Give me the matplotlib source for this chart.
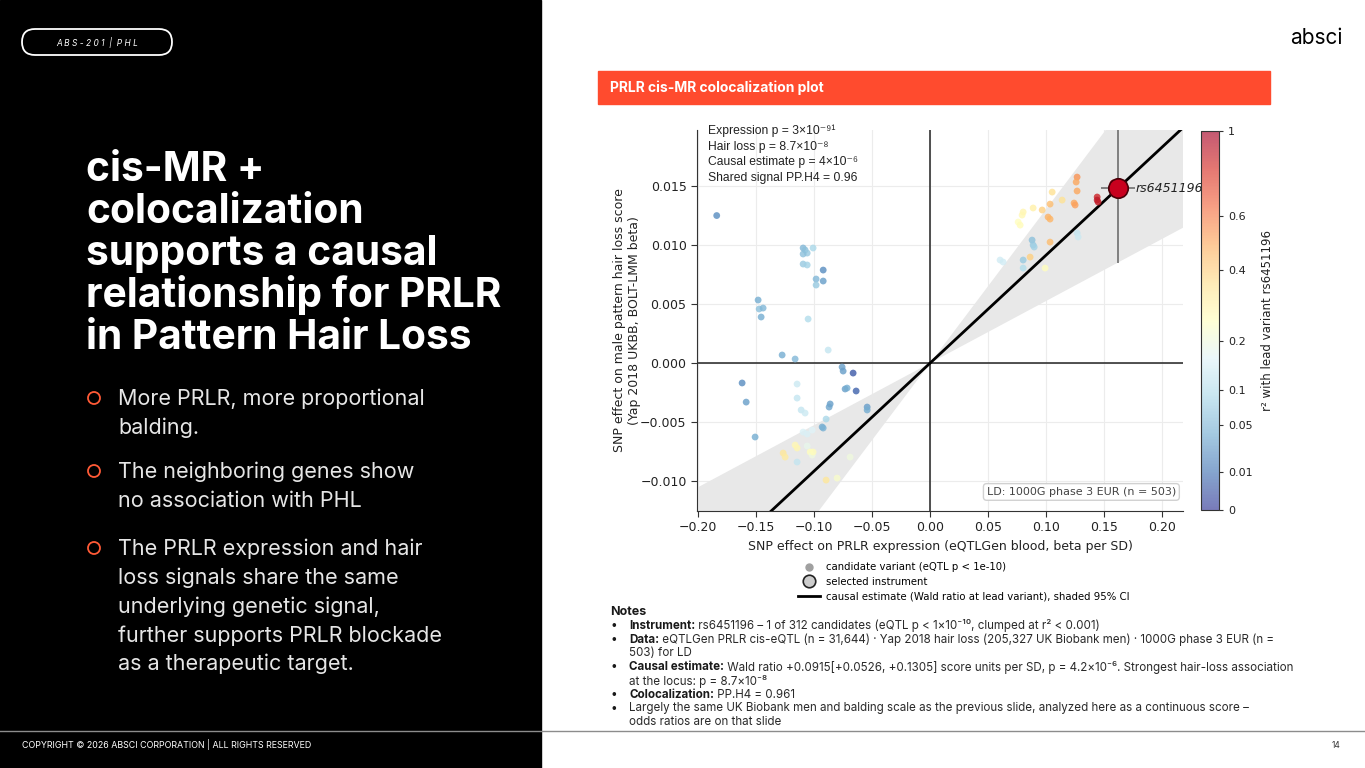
import matplotlib
matplotlib.use("Agg")
import matplotlib.pyplot as plt
import numpy as np
from matplotlib import colors as mcolors
from matplotlib.cm import ScalarMappable
from matplotlib.patches import Rectangle, FancyBboxPatch, Circle
from matplotlib.lines import Line2D

W, H = 1365, 768

# --- chart data ---
# candidate variants: eQTL beta (x), hair-loss beta (y), r2 with lead variant
cand_x = [-0.184, -0.1095, -0.1078, -0.106, -0.1095, -0.1009, -0.1095, -0.106, -0.0922, -0.0983,
          -0.0922, -0.0983, -0.1483, -0.1474, -0.144, -0.1457, -0.1052, -0.1276, -0.1164, -0.0879,
          -0.0759, -0.075, -0.0664, -0.1621, -0.1586, -0.1147, -0.1147, -0.0733, -0.0716, -0.0638,
          -0.0862, -0.0871, -0.0543, -0.0543, -0.1112, -0.1078, -0.0897, -0.0931, -0.0922, -0.1509,
          -0.1095, -0.106, -0.1017, -0.1164, -0.1147, -0.1267, -0.125, -0.106, -0.1034, -0.1017,
          -0.1009, -0.1147, -0.0897, -0.0802, -0.069,
          0.1267, 0.1259, 0.1267, 0.1052, 0.1034, 0.0966, 0.0888, 0.0802, 0.0793, 0.0759,
          0.0776, 0.1017, 0.1034, 0.1241, 0.125, 0.144, 0.144, 0.1448, 0.1578, 0.1267,
          0.1276, 0.0879, 0.0888, 0.0897, 0.1034, 0.0862, 0.0802, 0.0802, 0.0603, 0.0629,
          0.0991, 0.1138]
cand_y = [0.0125, 0.00975, 0.00958, 0.00932, 0.00924, 0.00975, 0.00839, 0.00831, 0.00788, 0.00712,
          0.00695, 0.00661, 0.00534, 0.00458, 0.00466, 0.0039, 0.00373, 0.00068, 0.00034, 0.0011,
          -0.00034, -0.00068, -0.00085, -0.00169, -0.00331, -0.00178, -0.00297, -0.0022, -0.00212, -0.00237,
          -0.00347, -0.00373, -0.00373, -0.00398, -0.00398, -0.00424, -0.00475, -0.00542, -0.00551, -0.00627,
          -0.00585, -0.00602, -0.00568, -0.00695, -0.0072, -0.00763, -0.00797, -0.00703, -0.00754, -0.0078,
          -0.00754, -0.00839, -0.00992, -0.00975, -0.00797,
          0.01576, 0.01534, 0.01458, 0.01449, 0.01347, 0.01297, 0.01314, 0.0128, 0.01254, 0.01195,
          0.01169, 0.01237, 0.0122, 0.01356, 0.01339, 0.01407, 0.01381, 0.01364, 0.01525, 0.01102,
          0.01068, 0.01042, 0.01, 0.00983, 0.01025, 0.00898, 0.00873, 0.00805, 0.00873, 0.00856,
          0.00805, 0.01381]
cand_r2 = [0.02, 0.05, 0.06, 0.07, 0.06, 0.09, 0.07, 0.08, 0.02, 0.05,
           0.03, 0.07, 0.04, 0.06, 0.05, 0.04, 0.1, 0.04, 0.05, 0.12,
           0.03, 0.03, 0.003, 0.02, 0.03, 0.13, 0.12, 0.03, 0.04, 0.005,
           0.03, 0.035, 0.03, 0.04, 0.12, 0.13, 0.09, 0.04, 0.045, 0.04,
           0.15, 0.15, 0.16, 0.27, 0.28, 0.33, 0.32, 0.18, 0.25, 0.2,
           0.26, 0.12, 0.33, 0.23, 0.2,
           0.55, 0.5, 0.5, 0.35, 0.45, 0.4, 0.3, 0.28, 0.27, 0.25,
           0.26, 0.48, 0.47, 0.5, 0.52, 0.85, 0.9, 0.88, 0.95, 0.12,
           0.13, 0.06, 0.07, 0.08, 0.45, 0.4, 0.07, 0.1, 0.14, 0.14,
           0.25, 0.35]

lead_name = "rs6451196"
lead_x, lead_y = 0.162, 0.0148
lead_xerr, lead_yerr = 0.015, 0.0063
wald, wald_lo, wald_hi = 0.0915, 0.0526, 0.1305

annot_lines = ["Expression p = 3×10⁻⁹¹", "Hair loss p = 8.7×10⁻⁸",
               "Causal estimate p = 4×10⁻⁶", "Shared signal PP.H4 = 0.96"]
cbar_ticks = [0, 0.01, 0.05, 0.1, 0.2, 0.4, 0.6, 1]
cbar_labels = ["0", "0.01", "0.05", "0.1", "0.2", "0.4", "0.6", "1"]

title_lines = ["cis-MR +", "colocalization", "supports a causal",
               "relationship for PRLR", "in Pattern Hair Loss"]
bullets = [["More PRLR, more proportional", "balding."],
           ["The neighboring genes show", "no association with PHL"],
           ["The PRLR expression and hair", "loss signals share the same",
            "underlying genetic signal,", "further supports PRLR blockade",
            "as a therapeutic target."]]
notes = [("Instrument:", " rs6451196 – 1 of 312 candidates (eQTL p < 1×10⁻¹⁰, clumped at r² < 0.001)", True),
         ("Data:", " eQTLGen PRLR cis-eQTL (n = 31,644) · Yap 2018 hair loss (205,327 UK Biobank men) · 1000G phase 3 EUR (n =", True),
         ("", "503) for LD", False),
         ("Causal estimate:", " Wald ratio +0.0915[+0.0526, +0.1305] score units per SD, p = 4.2×10⁻⁶. Strongest hair-loss association", True),
         ("", "at the locus: p = 8.7×10⁻⁸", False),
         ("Colocalization:", " PP.H4 = 0.961", True),
         ("", "Largely the same UK Biobank men and balding scale as the previous slide, analyzed here as a continuous score –", True),
         ("", "odds ratios are on that slide", False)]

SLIDE = ["Inter", "DejaVu Sans"]
plt.rcParams["font.family"] = ["DejaVu Sans"]

fig = plt.figure(figsize=(W / 100, H / 100), dpi=100)
fig.patch.set_facecolor("white")

# slide background drawn in pixel coordinates
bg = fig.add_axes([0, 0, 1, 1], zorder=0)
bg.set_xlim(0, W)
bg.set_ylim(H, 0)
bg.axis("off")

bg.add_patch(Rectangle((0, 0), 541, H, color="black", zorder=0))
bg.plot([0, W], [731, 731], color="#8c8c8c", lw=1)
bg.add_patch(FancyBboxPatch((22, 29), 150, 26, boxstyle="round,pad=0,rounding_size=13",
                            fill=False, ec="white", lw=1.3))
bg.text(97, 42.5, "A B S - 2 0 1  |  P H L", color="white", fontsize=6, style="italic",
        ha="center", va="center", family=SLIDE)

for i, line in enumerate(title_lines):
    bg.text(86, 181 + 42 * i, line, color="white", fontsize=29.3, weight="bold",
            family=SLIDE, va="baseline")

bullet_y = [[398, 427], [471, 500], [548, 577, 606, 635, 663]]
for lines, ys in zip(bullets, bullet_y):
    bg.add_patch(Circle((94, ys[0]), 6, fill=False, ec="#ff5a36", lw=1.3))
    for line, y in zip(lines, ys):
        bg.text(118, y + 7, line, color="#e6e6e6", fontsize=15.5, family=SLIDE, va="baseline")

bg.text(22, 745, "COPYRIGHT © 2026 ABSCI CORPORATION | ALL RIGHTS RESERVED", color="white",
        fontsize=6.4, family=SLIDE, va="center")
bg.text(1340, 745, "14", color="#333333", fontsize=6, family=SLIDE, va="center", ha="right")
bg.text(1316, 38, "absci", color="black", fontsize=15, family=SLIDE, ha="center", va="center")

bg.add_patch(Rectangle((598, 71), 672, 33, color="#ff4b2e"))
bg.text(610, 87.5, "PRLR cis-MR colocalization plot", color="white", fontsize=10,
        weight="bold", family=SLIDE, va="center")

# notes
renderer = fig.canvas.get_renderer()
bg.text(610, 612, "Notes", fontsize=9, weight="bold", family=SLIDE, va="center", color="#1a1a1a")
for i, (bold, rest, dot) in enumerate(notes):
    y = 626 + 13.75 * i
    x = 629
    if dot:
        bg.text(611, y, "•", fontsize=8.35, family=SLIDE, va="center", color="#1a1a1a")
    if bold:
        t = bg.text(x, y, bold, fontsize=8.35, weight="bold", family=SLIDE, va="center", color="#1a1a1a")
        x += t.get_window_extent(renderer).width
    bg.text(x, y, rest, fontsize=8.35, family=SLIDE, va="center", color="#2a2a2a")

# --- chart ---
ax = fig.add_axes([697 / W, 1 - 511 / H, 486 / W, 381 / H], zorder=2)
ax.set_xlim(-0.201, 0.218)
ax.set_ylim(-0.01254, 0.01975)
ax.set_xticks(np.arange(-0.2, 0.201, 0.05))
ax.set_yticks(np.arange(-0.01, 0.0151, 0.005))
ax.grid(color="#ececec", lw=0.8)
ax.set_axisbelow(True)
for s in ["top", "right"]:
    ax.spines[s].set_visible(False)
for s in ["left", "bottom"]:
    ax.spines[s].set_color("#333333")
ax.tick_params(labelsize=9, length=4, color="#333333", labelcolor="#222222")

xs = np.array([-0.25, 0.25])
ax.fill_between(xs, wald_lo * xs, wald_hi * xs, color="#e8e8e8", lw=0, zorder=1)
ax.axhline(0, color="#222222", lw=1.1, zorder=2)
ax.axvline(0, color="#222222", lw=1.1, zorder=2)
ax.plot(xs, wald * xs, color="black", lw=2, zorder=3)

cmap = plt.get_cmap("RdYlBu_r")
norm = mcolors.PowerNorm(gamma=0.5, vmin=0, vmax=1)
ax.scatter(cand_x, cand_y, c=cand_r2, cmap=cmap, norm=norm, s=24, alpha=0.8, lw=0, zorder=4)

ax.errorbar(lead_x, lead_y, xerr=lead_xerr, yerr=lead_yerr, fmt="none", ecolor="#6e6e6e",
            elinewidth=1.2, zorder=5)
ax.plot(lead_x, lead_y, "o", ms=14, mfc="#c8001e", mec="#4a0008", mew=1.2, zorder=6)
ax.text(lead_x + 0.0148, lead_y, lead_name, style="italic", fontsize=9, va="center",
        color="#222222", zorder=7)

for i, line in enumerate(annot_lines):
    ax.text(11 / 486, (380 - 15.7 * i) / 381, line, transform=ax.transAxes, fontsize=8.7,
            family=["Liberation Sans", "DejaVu Sans"], va="center", color="#222222")

ax.text(0.9856, 0.05, "LD: 1000G phase 3 EUR (n = 503)", transform=ax.transAxes, ha="right",
        va="center", fontsize=8, color="#444444", zorder=8,
        bbox=dict(boxstyle="round,pad=0.3", fc="white", ec="#cccccc", alpha=0.9))

ax.set_xlabel("SNP effect on PRLR expression (eQTLGen blood, beta per SD)", fontsize=9,
              labelpad=4, color="#222222")
ax.set_ylabel("SNP effect on male pattern hair loss score\n(Yap 2018 UKBB, BOLT-LMM beta)",
              fontsize=9, labelpad=-1, color="#222222")

# colorbar
cb_colors = cmap(np.linspace(0, 1, 256))
cb_colors[:, 3] = 0.65
cax = fig.add_axes([1201 / W, 1 - 510 / H, 18 / W, 379 / H], zorder=2)
cb = fig.colorbar(ScalarMappable(norm=norm, cmap=mcolors.ListedColormap(cb_colors)), cax=cax)
cb.set_ticks(cbar_ticks)
cb.set_ticklabels(cbar_labels)
cb.ax.tick_params(labelsize=8, length=3, color="#333333", labelcolor="#222222")
cb.outline.set_edgecolor("#333333")
cb.set_label("r² with lead variant rs6451196", fontsize=8.5, color="#222222", labelpad=6)

# legend under the chart
handles = [Line2D([], [], marker="o", ls="", color="#a0a0a0", ms=5),
           Line2D([], [], marker="o", ls="", mfc="#cccccc", mec="#222222", mew=1.2, ms=9),
           Line2D([], [], color="black", lw=2)]
labels = ["candidate variant (eQTL p < 1e-10)", "selected instrument",
          "causal estimate (Wald ratio at lead variant), shaded 95% CI"]
fig.legend(handles, labels, loc="upper left", bbox_to_anchor=(793 / W, 1 - 557 / H),
           frameon=False, fontsize=7.3, handlelength=2.2, labelspacing=0.45,
           handletextpad=0.6, borderpad=0)

fig.savefig("out.png", dpi=100, facecolor="white")
